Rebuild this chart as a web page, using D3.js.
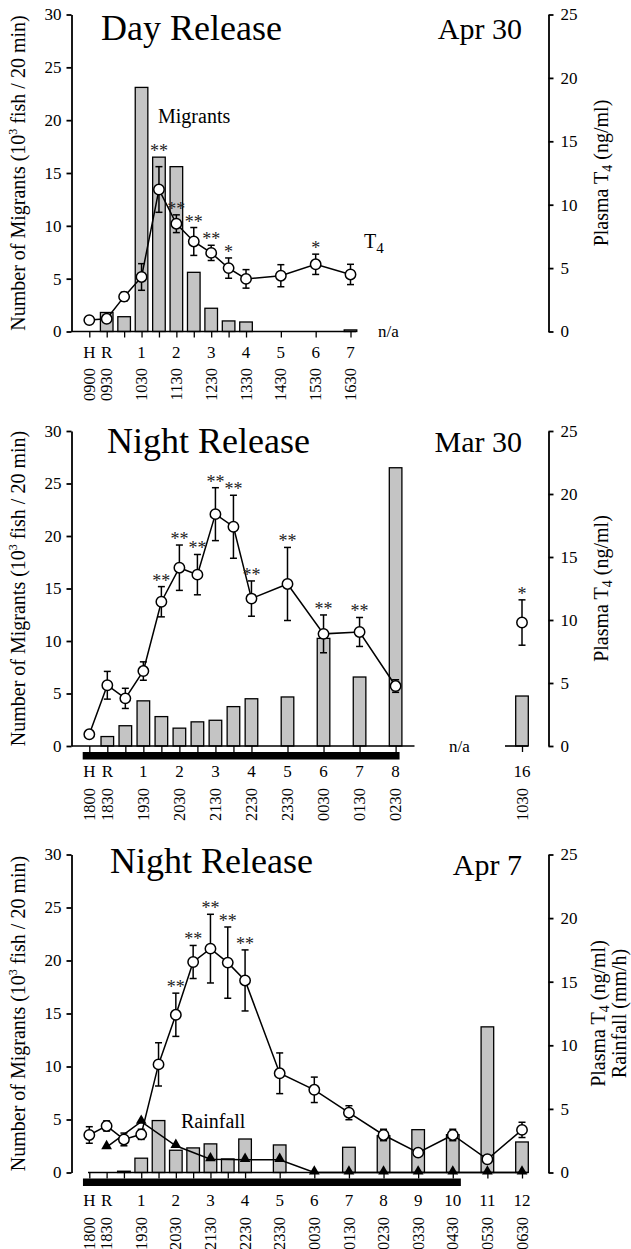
<!DOCTYPE html>
<html><head><meta charset="utf-8">
<script src="https://cdn.jsdelivr.net/npm/d3@7"></script>
<style>
html,body{margin:0;padding:0;background:#fff;}
svg, svg text{font-family:"Liberation Serif","Times New Roman","DejaVu Serif",serif;}
</style></head><body>
<svg id="chart" width="631" height="1249" font-family="Liberation Serif, Times New Roman, serif"></svg>
<script>
// ===== Panel A: Day Release, Apr 30 (time = minutes after 0900) =====
const dayBarTimes   = [30, 60, 90, 120, 150, 180, 210, 240, 270, 450];
const dayBarValues  = [1.8, 1.4, 23.1, 16.5, 15.6, 5.6, 2.2, 1.0, 0.9, 0.15];
const dayT4Times    = [0, 30, 60, 90, 120, 150, 180, 210, 240, 270, 330, 390, 450];
const dayT4Values   = [0.9, 1.0, 2.75, 4.3, 11.2, 8.5, 7.1, 6.2, 5.0, 4.15, 4.4, 5.3, 4.5];
const dayT4Errors   = [0.1, 0.15, 0.35, 1.05, 1.8, 0.7, 1.1, 0.6, 0.8, 0.73, 0.87, 0.8, 0.8];
const dayT4Stars    = ["", "", "", "", "**", "**", "**", "**", "*", "", "", "*", ""];
const dayHourTimes  = [0, 30, 90, 150, 210, 270, 330, 390, 450];
const dayHourLabels = ["H", "R", "1", "2", "3", "4", "5", "6", "7"];
const dayClockLabels = ["0900", "0930", "1030", "1130", "1230", "1330", "1430", "1530", "1630"];

// ===== Panel B: Night Release, Mar 30 (minutes after 1800) =====
const marBarTimes   = [30, 60, 90, 120, 150, 180, 210, 240, 270, 330, 390, 450, 510, 990];
const marBarValues  = [0.9, 1.93, 4.3, 2.8, 1.7, 2.3, 2.45, 3.75, 4.5, 4.67, 10.25, 6.57, 26.5, 4.76];
const marT4Times    = [0, 30, 60, 90, 120, 150, 180, 210, 240, 270, 330, 390, 450, 510, 990];
const marT4Values   = [0.93, 4.82, 3.78, 5.95, 11.45, 14.15, 13.6, 18.4, 17.4, 11.7, 12.86, 8.9, 9.05, 4.76, 9.8];
const marT4Errors   = [0.1, 1.1, 0.8, 0.73, 1.2, 1.8, 1.6, 2.1, 2.5, 1.4, 2.9, 1.5, 1.15, 0.5, 1.8];
const marT4Stars    = ["", "", "", "", "**", "**", "**", "**", "**", "**", "**", "**", "**", "", "*"];
const marHourTimes  = [0, 30, 90, 150, 210, 270, 330, 390, 450, 510, 990];
const marHourLabels = ["H", "R", "1", "2", "3", "4", "5", "6", "7", "8", "16"];
const marClockLabels = ["1800", "1830", "1930", "2030", "2130", "2230", "2330", "0030", "0130", "0230", "1030"];
const marNight      = [-11, 525];

// ===== Panel C: Night Release, Apr 7 (minutes after 1800) =====
const aprBarTimes   = [60, 90, 120, 150, 180, 210, 240, 270, 330, 450, 510, 570, 630, 690, 750];
const aprBarValues  = [0.12, 1.35, 4.9, 2.1, 2.32, 2.7, 1.28, 3.16, 2.6, 2.38, 3.47, 4.04, 3.57, 13.74, 2.88];
const aprT4Times    = [0, 30, 60, 90, 120, 150, 180, 210, 240, 270, 330, 390, 450, 510, 570, 630, 690, 750];
const aprT4Values   = [2.95, 3.66, 2.6, 3.0, 8.5, 12.4, 16.55, 17.6, 16.5, 15.1, 7.8, 6.5, 4.7, 2.95, 1.56, 2.95, 1.04, 3.35];
const aprT4Errors   = [0.65, 0.4, 0.5, 0.4, 1.7, 1.7, 1.3, 2.7, 2.8, 2.4, 1.6, 1.0, 0.55, 0.45, 0.25, 0.45, 0.15, 0.6];
const aprT4Stars    = ["", "", "", "", "", "**", "**", "**", "**", "**", "", "", "", "", "", "", "", ""];
const aprRainTimes  = [30, 90, 150, 210, 270, 330, 390, 450, 510, 570, 630, 690, 750];
const aprRainValues = [2.0, 4.0, 2.1, 1.05, 1.0, 1.0, 0, 0, 0, 0, 0, 0, 0];
const aprHourTimes  = [0, 30, 90, 150, 210, 270, 330, 390, 450, 510, 570, 630, 690, 750];
const aprHourLabels = ["H", "R", "1", "2", "3", "4", "5", "6", "7", "8", "9", "10", "11", "12"];
const aprClockLabels = ["1800", "1830", "1930", "2030", "2130", "2230", "2330", "0030", "0130", "0230", "0330", "0430", "0530", "0630"];
const aprNight      = [-11, 644];

const leftTicks  = [0, 5, 10, 15, 20, 25, 30];
const rightTicks = [0, 5, 10, 15, 20, 25];

// ===== drawing =====
const FONT = "Liberation Serif, Times New Roman, serif";
const svg = d3.select("#chart");
const GRAY = "#c4c4c4";
const BAR_W = 12.6;
const AX_L = 71.5, AX_R = 548.5;

function zip(ts, vs) { return ts.map((t, i) => ({ t, v: vs[i] })); }

function drawPanel(p) {
  const g = svg.append("g").attr("font-family", FONT);
  const x = d3.scaleLinear().domain(p.xDomain).range(p.xRange);
  const yL = d3.scaleLinear().domain([0, 30]).range([p.y0, p.yTop]);
  const yR = d3.scaleLinear().domain([0, 25]).range([p.y0, p.yTop]);

  const la = g.append("g").attr("transform", `translate(${AX_L},0)`)
    .call(d3.axisLeft(yL).tickValues(leftTicks).tickSize(5).tickSizeOuter(0).tickPadding(5));
  const ra = g.append("g").attr("transform", `translate(${AX_R},0)`)
    .call(d3.axisRight(yR).tickValues(rightTicks).tickSize(5).tickSizeOuter(0).tickPadding(7));
  [la, ra].forEach(a => {
    a.attr("font-family", FONT).attr("font-size", null);
    a.selectAll("path,line").attr("stroke", "#000").attr("stroke-width", 1.8);
    a.selectAll("text").attr("font-size", 17).attr("fill", "#000").attr("font-family", FONT);
  });

  if (p.night) {
    g.append("rect").attr("x", x(p.night[0])).attr("width", x(p.night[1]) - x(p.night[0]))
      .attr("y", p.y0 + 6).attr("height", 7.5).attr("fill", "#000");
  }
  const xa = g.append("g").attr("transform", `translate(0,${p.y0})`)
    .call(d3.axisBottom(x).tickValues(p.t4Times).tickSize(6).tickSizeOuter(0).tickFormat(""));
  xa.select(".domain").remove();
  xa.selectAll("line").attr("stroke", "#000").attr("stroke-width", 1.3);

  g.selectAll("rect.bar").data(zip(p.barTimes, p.barValues)).join("rect").attr("class", "bar")
    .attr("x", d => x(d.t) - BAR_W / 2).attr("width", BAR_W)
    .attr("y", d => yL(d.v)).attr("height", d => yL(0) - yL(d.v))
    .attr("fill", GRAY).attr("stroke", "#000").attr("stroke-width", 1.3);

  p.baselines.forEach(b => {
    g.append("line").attr("x1", b[0]).attr("x2", b[1]).attr("y1", p.y0).attr("y2", p.y0)
      .attr("stroke", "#000").attr("stroke-width", 1.6);
  });

  const pts = p.t4Times.map((t, i) => ({ t, v: p.t4Values[i], e: p.t4Errors[i], s: p.t4Stars[i] }));
  const line = d3.line().x(d => x(d.t)).y(d => yR(d.v));
  g.append("path").datum(pts.filter(d => d.t <= p.lineMax)).attr("d", line)
    .attr("fill", "none").attr("stroke", "#000").attr("stroke-width", 1.5);

  if (p.rainTimes) {
    const rp = zip(p.rainTimes, p.rainValues);
    g.append("path").datum(rp).attr("d", line)
      .attr("fill", "none").attr("stroke", "#000").attr("stroke-width", 1.5);
    g.selectAll("path.tri").data(rp).join("path").attr("class", "tri")
      .attr("d", d3.symbol(d3.symbolTriangle).size(50)())
      .attr("transform", d => `translate(${x(d.t)},${yR(d.v) - 1})`)
      .attr("fill", "#000");
  }

  const eb = g.selectAll("g.err").data(pts).join("g").attr("class", "err");
  eb.append("line").attr("x1", d => x(d.t)).attr("x2", d => x(d.t))
    .attr("y1", d => yR(d.v + d.e)).attr("y2", d => yR(d.v - d.e));
  eb.append("line").attr("x1", d => x(d.t) - 3.5).attr("x2", d => x(d.t) + 3.5)
    .attr("y1", d => yR(d.v + d.e)).attr("y2", d => yR(d.v + d.e));
  eb.append("line").attr("x1", d => x(d.t) - 3.5).attr("x2", d => x(d.t) + 3.5)
    .attr("y1", d => yR(d.v - d.e)).attr("y2", d => yR(d.v - d.e));
  eb.selectAll("line").attr("stroke", "#000").attr("stroke-width", 1.5);

  g.selectAll("circle.pt").data(pts).join("circle").attr("class", "pt")
    .attr("cx", d => x(d.t)).attr("cy", d => yR(d.v)).attr("r", 5.2)
    .attr("fill", "#fff").attr("stroke", "#000").attr("stroke-width", 1.5);

  const barMap = new Map(p.barTimes.map((t, i) => [t, yL(p.barValues[i])]));
  g.selectAll("text.star").data(pts.filter(d => d.s)).join("text").attr("class", "star")
    .attr("x", d => x(d.t)).attr("text-anchor", "middle").attr("font-size", 18).attr("fill", "#222")
    .attr("y", d => {
      let top = yR(d.v + d.e);
      const bt = barMap.get(d.t);
      if (bt !== undefined && bt < top && top - bt < 14) top = bt;
      return top;
    })
    .text(d => d.s);

  g.selectAll("text.hr").data(zip(p.hourTimes, p.hourLabels)).join("text").attr("class", "hr")
    .attr("x", d => x(d.t)).attr("y", p.y0 + p.hourDy).attr("text-anchor", "middle")
    .attr("font-size", 17).text(d => d.v);
  g.selectAll("text.clk").data(zip(p.hourTimes, p.clockLabels)).join("text").attr("class", "clk")
    .attr("transform", d => `translate(${x(d.t)},${p.y0 + p.clockDy}) rotate(-90)`)
    .attr("text-anchor", "end").attr("dy", "0.34em").attr("font-size", 16.5).text(d => d.v);

  g.append("text").attr("x", p.titleX).attr("y", p.titleY).attr("font-size", 36).text(p.title);
  g.append("text").attr("x", 522).attr("y", p.dateY).attr("text-anchor", "end").attr("font-size", 30).text(p.date);

  const mid = (p.y0 + p.yTop) / 2;
  const lt = g.append("text").attr("transform", `translate(25,${mid}) rotate(-90)`)
    .attr("text-anchor", "middle").attr("font-size", 20);
  lt.append("tspan").text("Number of Migrants (10");
  lt.append("tspan").attr("font-size", 12).attr("dy", -8).text("3");
  lt.append("tspan").attr("dy", 8).text(" fish / 20 min)");

  p.rightLabels.forEach(rl => {
    const t = g.append("text").attr("transform", `translate(${rl.x},${mid}) rotate(-90)`)
      .attr("text-anchor", "middle").attr("font-size", 20);
    if (rl.t4) {
      t.append("tspan").text("Plasma T");
      t.append("tspan").attr("font-size", 14).attr("dy", 4).text("4");
      t.append("tspan").attr("dy", -4).text(" (ng/ml)");
    } else {
      t.text(rl.text);
    }
  });
  return { g, x, yL, yR };
}

const A = drawPanel({
  xDomain: [0, 450], xRange: [89.3, 350.5], y0: 331.5, yTop: 14.5,
  barTimes: dayBarTimes, barValues: dayBarValues,
  t4Times: dayT4Times, t4Values: dayT4Values, t4Errors: dayT4Errors, t4Stars: dayT4Stars,
  lineMax: 10000, baselines: [[71.5, 356]],
  hourTimes: dayHourTimes, hourLabels: dayHourLabels, clockLabels: dayClockLabels,
  hourDy: 26.5, clockDy: 36.5,
  title: "Day Release", titleX: 101, titleY: 40, date: "Apr 30", dateY: 39,
  rightLabels: [{ x: 608, t4: true }]
});
A.g.append("text").attr("x", 158).attr("y", 123).attr("font-size", 20).text("Migrants");
const t4lab = A.g.append("text").attr("x", 364).attr("y", 248).attr("font-size", 20);
t4lab.append("tspan").text("T");
t4lab.append("tspan").attr("font-size", 15).attr("dy", 5).text("4");
A.g.append("text").attr("x", 378).attr("y", 337).attr("font-size", 17).text("n/a");

const B = drawPanel({
  xDomain: [0, 510, 990], xRange: [89.3, 395.6, 522], y0: 746, yTop: 431,
  barTimes: marBarTimes, barValues: marBarValues,
  t4Times: marT4Times, t4Values: marT4Values, t4Errors: marT4Errors, t4Stars: marT4Stars,
  lineMax: 510, baselines: [[71.5, 414.5], [505, 528]], night: marNight,
  hourTimes: marHourTimes, hourLabels: marHourLabels, clockLabels: marClockLabels,
  hourDy: 31, clockDy: 42,
  title: "Night Release", titleX: 107, titleY: 453, date: "Mar 30", dateY: 452,
  rightLabels: [{ x: 608, t4: true }]
});
B.g.append("text").attr("x", 449).attr("y", 752).attr("font-size", 17).text("n/a");

const C = drawPanel({
  xDomain: [0, 750], xRange: [89.3, 522], y0: 1172.5, yTop: 854.5,
  barTimes: aprBarTimes, barValues: aprBarValues,
  t4Times: aprT4Times, t4Values: aprT4Values, t4Errors: aprT4Errors, t4Stars: aprT4Stars,
  rainTimes: aprRainTimes, rainValues: aprRainValues,
  lineMax: 10000, baselines: [[88, 528]], night: aprNight,
  hourTimes: aprHourTimes, hourLabels: aprHourLabels, clockLabels: aprClockLabels,
  hourDy: 33.5, clockDy: 44.5,
  title: "Night Release", titleX: 110, titleY: 873, date: "Apr 7", dateY: 875,
  rightLabels: [{ x: 605, t4: true }, { x: 626, text: "Rainfall (mm/h)" }]
});
C.g.append("text").attr("x", 181).attr("y", 1128).attr("font-size", 20).text("Rainfall");
</script>
</body></html>
